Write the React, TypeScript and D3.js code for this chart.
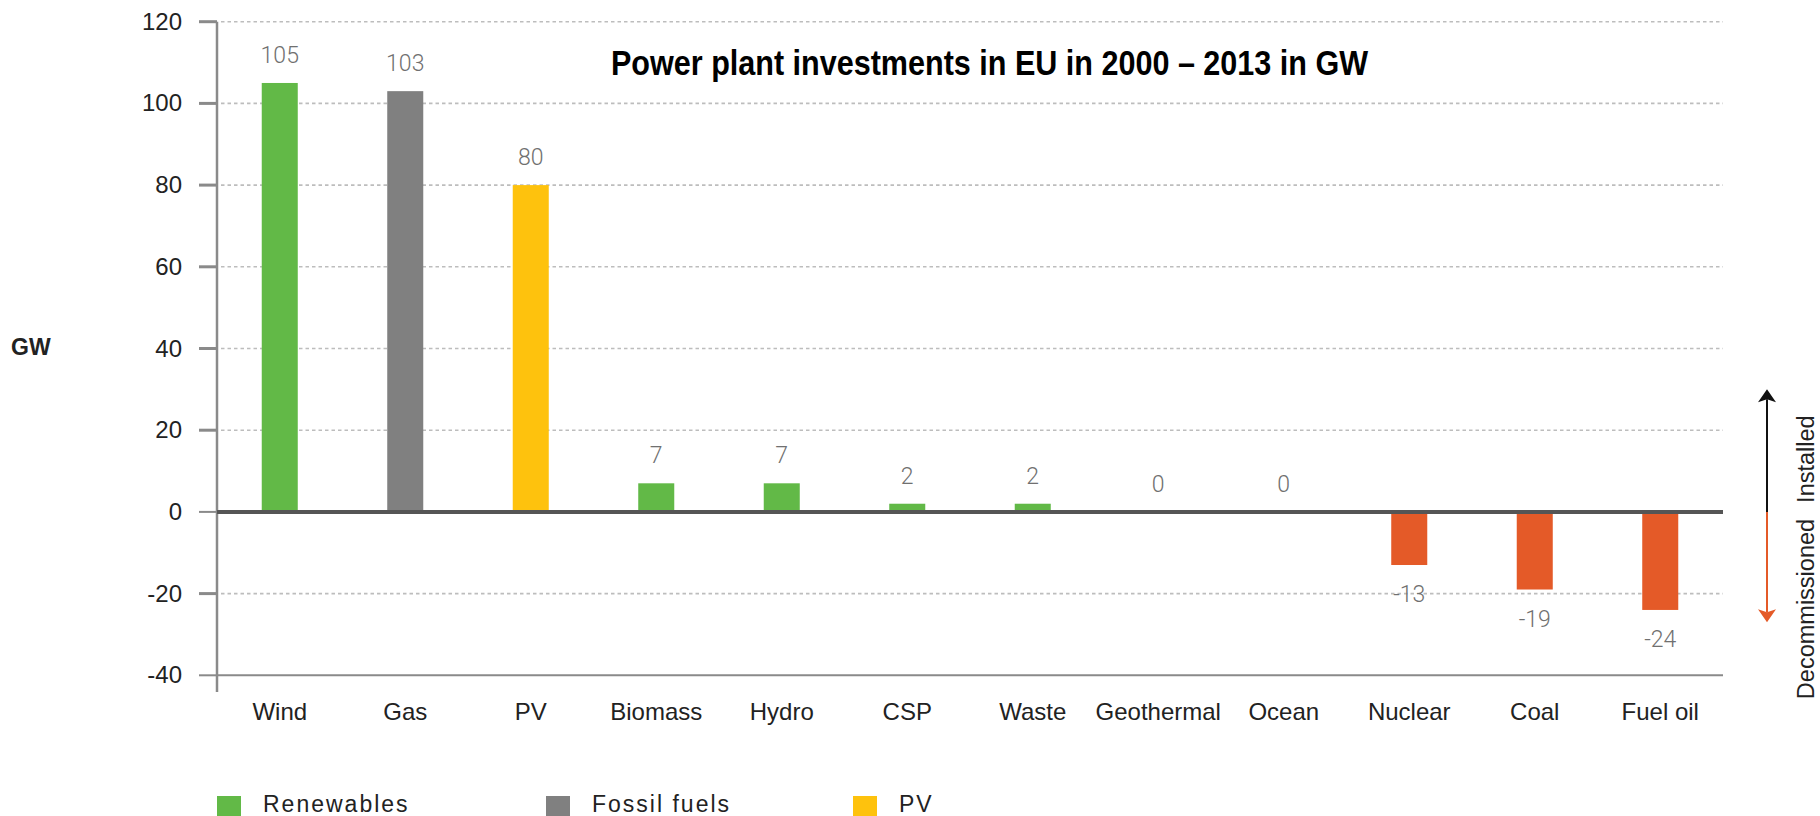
import React, { useEffect } from "react";
import * as d3 from "d3";

const categories = ["Wind", "Gas", "PV", "Biomass", "Hydro", "CSP", "Waste", "Geothermal", "Ocean", "Nuclear", "Coal", "Fuel oil"];
const values = [105, 103, 80, 7, 7, 2, 2, 0, 0, -13, -19, -24];
const groups = ["renew", "fossil", "pv", "renew", "renew", "renew", "renew", "renew", "renew", "decom", "decom", "decom"];
const yTicks = [-40, -20, 0, 20, 40, 60, 80, 100, 120];
const legendLabels = ["Renewables", "Fossil fuels", "PV"];
const legendKeys = ["renew", "fossil", "pv"];
const title = "Power plant investments in EU in 2000 \u2013 2013 in GW";

const colors: Record<string, string> = {
  renew: "#62b947",
  fossil: "#808080",
  pv: "#fec20d",
  decom: "#e45a28",
};

const W = 1820;
const H = 816;
const FONT = "'Liberation Sans', Arial, Helvetica, sans-serif";

export default function App() {
  useEffect(() => {
    document.body.style.margin = "0";
    document.body.style.overflow = "hidden";
  }, []);

  const x = d3.scaleBand<string>().domain(categories).range([217, 1723]).paddingInner(0.713).paddingOuter(0.3565);
  const y = d3.scaleLinear().domain([-40, 120]).range([675.3, 21.7]);
  const y0 = y(0);
  const bw = x.bandwidth();
  const legendX = [217, 546, 853];

  return (
    <svg width={W} height={H} style={{ position: "absolute", left: 0, top: 0, background: "#fff" }} fontFamily={FONT}>
      {/* gridlines */}
      {yTicks.filter((t) => t !== 0 && t !== -40).map((t) => (
        <line key={"g" + t} x1={221} x2={1723} y1={y(t)} y2={y(t)} stroke="#bdbdbd" strokeWidth={1.6} strokeDasharray="3.5,3" />
      ))}
      {/* bottom line at -40 */}
      <line x1={217} x2={1723} y1={y(-40)} y2={y(-40)} stroke="#8a8a8a" strokeWidth={2} />
      {/* y axis */}
      <line x1={217} x2={217} y1={y(120)} y2={692} stroke="#8a8a8a" strokeWidth={2.5} />
      {yTicks.map((t) => (
        <g key={"t" + t}>
          <line x1={199} x2={217} y1={y(t)} y2={y(t)} stroke="#8a8a8a" strokeWidth={t === 0 || t === -40 ? 2 : 3} />
          <text x={182} y={y(t) + 8} textAnchor="end" fontSize={24} fill="#222">{t}</text>
        </g>
      ))}
      {/* bars */}
      {categories.map((c, i) => {
        const v = values[i];
        const yy = Math.min(y(v), y0);
        const hh = Math.abs(y(v) - y0);
        return <rect key={"b" + c} x={x(c)} y={yy} width={bw} height={hh} fill={colors[groups[i]]} />;
      })}
      {/* zero line */}
      <line x1={217} x2={1723} y1={y0} y2={y0} stroke="#555555" strokeWidth={4} />
      {/* value labels */}
      {categories.map((c, i) => {
        const v = values[i];
        const cx = (x(c) as number) + bw / 2;
        const ty = v >= 0 ? y(v) - 20 : y(v) + 37;
        return (
          <text key={"v" + c} x={cx} y={ty} textAnchor="middle" fontSize={23} fill="#707070" fontFamily="Roboto, 'Liberation Sans', sans-serif" fontWeight={300}>
            {v}
          </text>
        );
      })}
      {/* category labels */}
      {categories.map((c) => (
        <text key={"c" + c} x={(x(c) as number) + bw / 2} y={720} textAnchor="middle" fontSize={24} fill="#222">
          {c}
        </text>
      ))}
      {/* GW label */}
      <text x={11} y={355} fontSize={23} fontWeight="bold" fill="#222">GW</text>
      {/* title */}
      <text x={611} y={75} fontSize={35} fontWeight="bold" fill="#000" fontFamily="'Liberation Sans Narrow', 'Arial Narrow', 'Liberation Sans', Arial, sans-serif" textLength={757} lengthAdjust="spacingAndGlyphs">
        {title}
      </text>
      {/* installed / decommissioned arrow */}
      <line x1={1767} x2={1767} y1={y(30) + 10} y2={y0} stroke="#111" strokeWidth={2} />
      <path d={`M1767,${y(30)} L1776,${y(30) + 13} L1767,${y(30) + 10} L1758,${y(30) + 13} Z`} fill="#111" />
      <line x1={1767} x2={1767} y1={y0} y2={y(-27) - 10} stroke="#e45a28" strokeWidth={2} />
      <path d={`M1767,${y(-27)} L1776,${y(-27) - 13} L1767,${y(-27) - 10} L1758,${y(-27) - 13} Z`} fill="#e45a28" />
      <text transform={`translate(1814,${y0 - 9}) rotate(-90)`} fontSize={23.5} fill="#222" textAnchor="start">Installed</text>
      <text transform={`translate(1814,${y0 + 7}) rotate(-90)`} fontSize={23.5} fill="#222" textAnchor="end">Decommissioned</text>
      {/* legend */}
      {legendLabels.map((l, i) => (
        <g key={"l" + l}>
          <rect x={legendX[i]} y={796} width={24} height={24} fill={colors[legendKeys[i]]} />
          <text x={legendX[i] + 46} y={812} fontSize={23} letterSpacing={2} fill="#222">{l}</text>
        </g>
      ))}
    </svg>
  );
}
